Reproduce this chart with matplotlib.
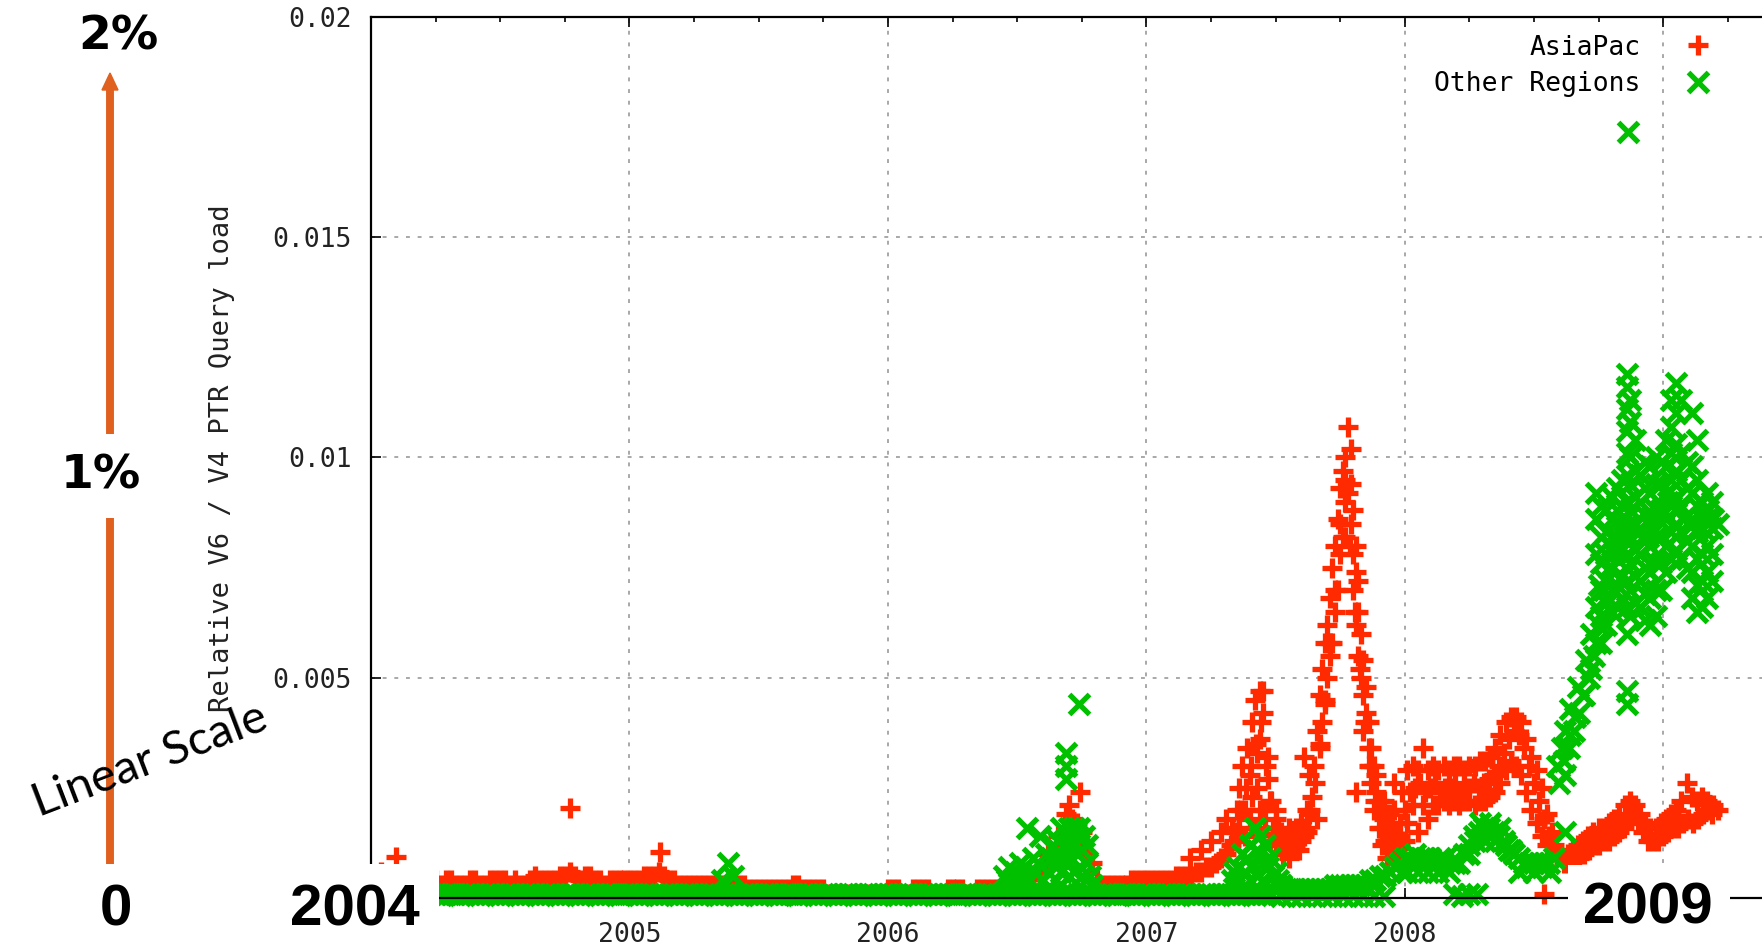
import numpy as np
import matplotlib
matplotlib.use("Agg")
import matplotlib.pyplot as plt
from matplotlib.patches import Rectangle, FancyArrow
from matplotlib.ticker import MultipleLocator

# weekly samples starting Jan 2004, one row per quarter
start_year = 2004.0
samples_per_year = 52

asiapac = [
    0.0003, 0.0004, 0.0006, 0.0004, 0.0003, 0.0003, 0.0003, 0.0004, 0.0003, 0.0003, 0.0003, 0.0003, 0.0003,
    0.0004, 0.0003, 0.0004, 0.0004, 0.0003, 0.0003, 0.0003, 0.0004, 0.0004, 0.0003, 0.0003, 0.0004, 0.0004,
    0.0004, 0.0004, 0.0003, 0.0004, 0.0003, 0.0003, 0.0004, 0.0005, 0.0004, 0.0004, 0.0004, 0.0004, 0.0005,
    0.0005, 0.0006, 0.0005, 0.0004, 0.0005, 0.0005, 0.0004, 0.0004, 0.0003, 0.0004, 0.0004, 0.0004, 0.0004,
    0.0004, 0.0004, 0.0004, 0.0005, 0.0005, 0.0005, 0.0006, 0.0005, 0.0004, 0.0004, 0.0003, 0.0003, 0.0003,
    0.0003, 0.0003, 0.0003, 0.0003, 0.0003, 0.0003, 0.0003, 0.0003, 0.0003, 0.0003, 0.0003, 0.0002, 0.0002,
    0.0002, 0.0002, 0.0002, 0.0002, 0.0002, 0.0002, 0.0002, 0.0003, 0.0003, 0.0002, 0.0002, 0.0002, 0.0002,
    0.0002, 0.0001, 0.0001, 0.0001, 0.0001, 0.0001, 0.0001, 0.0001, 0.0001, 0.0001, 0.0001, 0.0001, 0.0001,
    0.0002, 0.0002, 0.0002, 0.0001, 0.0001, 0.0002, 0.0002, 0.0002, 0.0002, 0.0001, 0.0001, 0.0001, 0.0002,
    0.0002, 0.0002, 0.0002, 0.0001, 0.0001, 0.0002, 0.0002, 0.0002, 0.0002, 0.0002, 0.0002, 0.0003, 0.0004,
    0.0005, 0.0006, 0.0005, 0.0005, 0.0006, 0.0007, 0.0008, 0.0009, 0.0010, 0.0012, 0.0015, 0.0018, 0.0017,
    0.0015, 0.0010, 0.0008, 0.0004, 0.0003, 0.0003, 0.0003, 0.0003, 0.0003, 0.0003, 0.0004, 0.0004, 0.0004,
    0.0004, 0.0004, 0.0004, 0.0004, 0.0004, 0.0004, 0.0005, 0.0005, 0.0005, 0.0005, 0.0006, 0.0006, 0.0007,
    0.0007, 0.0008, 0.0009, 0.0010, 0.0012, 0.0015, 0.0020, 0.0025, 0.0030, 0.0035, 0.0040, 0.0030, 0.0022,
    0.0018, 0.0014, 0.0012, 0.0011, 0.0012, 0.0014, 0.0016, 0.0020, 0.0026, 0.0035, 0.0045, 0.0058, 0.0070,
    0.0085, 0.0095, 0.0080, 0.0065, 0.0052, 0.0040, 0.0030, 0.0022, 0.0016, 0.0013, 0.0012, 0.0011, 0.0014,
    0.0020, 0.0024, 0.0025, 0.0026, 0.0024, 0.0025, 0.0026, 0.0024, 0.0025, 0.0025, 0.0026, 0.0024, 0.0025,
    0.0025, 0.0026, 0.0025, 0.0026, 0.0027, 0.0028, 0.0030, 0.0033, 0.0036, 0.0038, 0.0037, 0.0034, 0.0030,
    0.0026, 0.0022, 0.0018, 0.0014, 0.0012, 0.0010, 0.0008, 0.0008, 0.0009, 0.0009, 0.0010, 0.0011, 0.0012,
    0.0012, 0.0013, 0.0013, 0.0014, 0.0015, 0.0016, 0.0018, 0.0019, 0.0017, 0.0015, 0.0013, 0.0013, 0.0013,
    0.0014, 0.0015, 0.0016, 0.0016, 0.0017, 0.0018, 0.0017, 0.0018, 0.0019, 0.0020, 0.0021, 0.0020,
]

other = [
    0.0001, 0.00008, 0.00006, 0.00008, 0.0001, 0.00008, 0.00006, 0.00008, 0.0001, 0.00008, 0.00006, 0.00008, 0.0001,
    0.00008, 0.00006, 0.00008, 0.0001, 0.00008, 0.00006, 0.00008, 0.0001, 0.00008, 0.00006, 0.00008, 0.0001, 0.00008,
    0.00006, 0.00008, 0.0001, 0.00008, 0.00006, 0.00008, 0.0001, 0.00008, 0.00006, 0.00008, 0.0001, 0.00008, 0.00006,
    0.00008, 0.0001, 0.00008, 0.00006, 0.00008, 0.0001, 0.00008, 0.00006, 0.00008, 0.0001, 0.00008, 0.00006, 0.00008,
    0.0001, 0.00008, 0.00006, 0.00008, 0.0001, 0.00008, 0.00006, 0.00008, 0.0001, 0.00008, 0.00006, 0.00008, 0.0001,
    0.00008, 0.00006, 0.00008, 0.0001, 0.00008, 0.00006, 0.00008, 0.0001, 0.00008, 0.00006, 0.00008, 0.0001, 0.00008,
    0.00006, 0.00008, 0.0001, 0.00008, 0.00006, 0.00008, 0.0001, 0.00008, 0.00006, 0.00008, 0.0001, 0.00008, 0.00006,
    0.00008, 0.0001, 0.00008, 0.00006, 0.00008, 0.0001, 0.00008, 0.00006, 0.00008, 0.0001, 0.00008, 0.00006, 0.00008,
    0.0001, 0.00008, 0.00006, 0.00008, 0.0001, 0.00008, 0.00006, 0.00008, 0.0001, 0.00008, 0.00006, 0.00008, 0.0001,
    0.00008, 0.00006, 0.00008, 0.0001, 0.00008, 0.00006, 0.00008, 0.0001, 0.00008, 0.00006, 0.00008, 0.0001, 0.00008,
    0.00006, 0.00008, 0.0001, 0.00008, 0.00006, 0.00008, 0.0001, 0.00008, 0.00006, 0.00008, 0.0001, 0.00008, 0.00006,
    0.00008, 0.0001, 0.00008, 0.00006, 0.00008, 0.0001, 0.00008, 0.00006, 0.00008, 0.0001, 0.00008, 0.00006, 0.00008,
    0.0001, 0.00008, 0.00006, 0.00008, 0.0001, 0.00008, 0.00006, 0.00008, 0.0001, 0.00008, 0.00006, 0.00008, 0.0001,
    0.00008, 0.00006, 0.00008, 0.0001, 0.00008, 0.00006, 0.00008, 0.0001, 0.00008, 0.00006, 0.00008, 0.0001, 0.00008,
    0.0003, 0.0003, 0.0002, 0.0002, 0.0002, 0.0002, 0.0002, 0.0002, 0.0002, 0.0002, 0.0002, 0.0002, 0.0003,
    0.0003, 0.0003, 0.0003, 0.0003, 0.0003, 0.0003, 0.0004, 0.0004, 0.0005, 0.0005, 0.0006, 0.0007, 0.0008,
    0.0009, 0.0009, 0.0010, 0.0009, 0.0009, 0.0009, 0.0008, 0.0009, 0.0009, 0.0008, 0.0008, 0.0008, 0.0010,
    0.0012, 0.0014, 0.0015, 0.0016, 0.0016, 0.0015, 0.0014, 0.0013, 0.0011, 0.0010, 0.0009, 0.0008, 0.0008,
    0.0008, 0.0008, 0.0008, 0.0008, 0.0009, 0.0026, 0.0031, 0.0034, 0.0038, 0.0042, 0.0046, 0.0050, 0.0055,
    0.0062, 0.0070, 0.0075, 0.0078, 0.0080, 0.0082, 0.0085, 0.0085, 0.0083, 0.0082, 0.0082, 0.0084, 0.0086,
    0.0088, 0.0090, 0.0090, 0.0088, 0.0086, 0.0085, 0.0085, 0.0084, 0.0086, 0.0088, 0.0086, 0.0085,
]

# scattered readings around the weekly trace (date, value)
asiapac_extra = [
    (2004.096, 0.00094), (2004.771, 0.00204), (2005.119, 0.00104),
    (2006.62, 0.0010), (2006.66, 0.0014), (2006.69, 0.0019), (2006.70, 0.0021),
    (2006.744, 0.0024), (2006.72, 0.0012), (2006.76, 0.0010),
    (2007.17, 0.0009), (2007.21, 0.0011), (2007.25, 0.0013), (2007.29, 0.0015),
    (2007.31, 0.0018),
    (2007.33, 0.0016), (2007.34, 0.0013), (2007.35, 0.0020), (2007.36, 0.0025),
    (2007.36, 0.0016), (2007.37, 0.0030), (2007.38, 0.0020), (2007.38, 0.0014),
    (2007.39, 0.0034), (2007.40, 0.0028), (2007.40, 0.0018), (2007.41, 0.0040),
    (2007.41, 0.0023), (2007.42, 0.0045), (2007.42, 0.0016), (2007.43, 0.0025),
    (2007.43, 0.0033), (2007.44, 0.0047), (2007.44, 0.0036), (2007.44, 0.0020),
    (2007.45, 0.0042), (2007.45, 0.0047), (2007.46, 0.0020), (2007.46, 0.0016),
    (2007.47, 0.0027), (2007.47, 0.0032), (2007.48, 0.0022), (2007.48, 0.0013),
    (2007.49, 0.0016), (2007.50, 0.0020), (2007.51, 0.0013), (2007.51, 0.0016),
    (2007.53, 0.0010), (2007.53, 0.0014),
    (2007.50, 0.0012), (2007.52, 0.0015), (2007.54, 0.0013), (2007.55, 0.0016),
    (2007.57, 0.0011), (2007.58, 0.0016), (2007.60, 0.0013), (2007.62, 0.0015),
    (2007.63, 0.0019),
    (2007.55, 0.0009), (2007.56, 0.0012), (2007.57, 0.0015), (2007.58, 0.0013),
    (2007.59, 0.0011), (2007.60, 0.0017), (2007.61, 0.0032), (2007.61, 0.0014),
    (2007.62, 0.0020), (2007.63, 0.0028), (2007.64, 0.0023), (2007.65, 0.0030),
    (2007.66, 0.0018),
    (2007.66, 0.0038), (2007.67, 0.0046), (2007.67, 0.0034), (2007.68, 0.0052),
    (2007.68, 0.0040), (2007.69, 0.0058), (2007.69, 0.0044), (2007.70, 0.0062),
    (2007.70, 0.0050), (2007.71, 0.0068), (2007.71, 0.0055), (2007.72, 0.0075),
    (2007.72, 0.0058), (2007.73, 0.0080), (2007.73, 0.0065), (2007.74, 0.0086),
    (2007.74, 0.0070), (2007.75, 0.0093), (2007.75, 0.0078), (2007.76, 0.0097),
    (2007.76, 0.0082), (2007.77, 0.0100), (2007.77, 0.0090), (2007.77, 0.0082),
    (2007.78, 0.0107), (2007.78, 0.0092), (2007.79, 0.0102), (2007.79, 0.0094),
    (2007.79, 0.0085), (2007.80, 0.0078), (2007.80, 0.0088), (2007.80, 0.0070),
    (2007.81, 0.0074), (2007.81, 0.0080), (2007.81, 0.0062), (2007.81, 0.0024),
    (2007.82, 0.0065), (2007.82, 0.0072), (2007.82, 0.0055), (2007.83, 0.0050),
    (2007.83, 0.0060), (2007.84, 0.0046), (2007.84, 0.0054), (2007.84, 0.0038),
    (2007.85, 0.0042), (2007.85, 0.0048), (2007.86, 0.0034), (2007.86, 0.0040),
    (2007.86, 0.0030), (2007.87, 0.0026), (2007.87, 0.0034), (2007.88, 0.0020),
    (2007.88, 0.0030), (2007.89, 0.0024), (2007.89, 0.0028), (2007.90, 0.0016),
    (2007.90, 0.0022), (2007.91, 0.0012), (2007.91, 0.0019), (2007.92, 0.0018),
    (2007.93, 0.0009), (2007.93, 0.0015), (2007.95, 0.0011), (2007.95, 0.0016),
    (2007.96, 0.0009), (2007.97, 0.0014), (2007.98, 0.0012),
    (2007.92, 0.0022), (2007.94, 0.0019), (2007.94, 0.0013), (2007.96, 0.0020),
    (2007.96, 0.0026), (2007.97, 0.0009), (2007.98, 0.0017), (2007.99, 0.0024),
    (2008.00, 0.0013),
    (2008.01, 0.0029), (2008.03, 0.0030), (2008.05, 0.0029), (2008.07, 0.0034),
    (2008.09, 0.0029), (2008.11, 0.0030), (2008.13, 0.0029), (2008.15, 0.0030),
    (2008.17, 0.0029), (2008.19, 0.0030), (2008.21, 0.0030), (2008.23, 0.0029),
    (2008.25, 0.0030), (2008.27, 0.0030), (2008.29, 0.0031), (2008.31, 0.0031),
    (2008.33, 0.0032), (2008.35, 0.0034), (2008.37, 0.0037), (2008.39, 0.0040),
    (2008.41, 0.0041), (2008.43, 0.0041), (2008.45, 0.0040), (2008.47, 0.0036),
    (2008.49, 0.0032), (2008.51, 0.0029), (2008.53, 0.0025),
    (2008.01, 0.0017), (2008.03, 0.0021), (2008.05, 0.0015), (2008.07, 0.0021),
    (2008.09, 0.0018), (2008.11, 0.0021), (2008.13, 0.0021), (2008.15, 0.0022),
    (2008.17, 0.0021), (2008.19, 0.0022), (2008.21, 0.0021), (2008.23, 0.0022),
    (2008.25, 0.0022), (2008.27, 0.0021), (2008.29, 0.0022), (2008.31, 0.0022),
    (2008.33, 0.0023), (2008.35, 0.0024), (2008.37, 0.0026), (2008.39, 0.0029),
    (2008.41, 0.0031), (2008.43, 0.0030), (2008.45, 0.0028), (2008.47, 0.0024),
    (2008.49, 0.0020), (2008.51, 0.0017), (2008.53, 0.0014), (2008.55, 0.0012),
    (2008.57, 0.0015), (2008.54, 0.0001), (2008.55, 0.0019), (2008.58, 0.0011),
    (2008.63, 0.0010), (2008.65, 0.0011), (2008.67, 0.0012), (2008.69, 0.0013),
    (2008.71, 0.0014), (2008.73, 0.0015), (2008.75, 0.0016), (2008.77, 0.0016),
    (2008.79, 0.0017), (2008.81, 0.0018), (2008.83, 0.0019), (2008.85, 0.0021),
    (2008.87, 0.0022), (2008.89, 0.0021), (2008.91, 0.0019), (2008.93, 0.0017),
    (2008.95, 0.0016), (2008.97, 0.0016), (2008.99, 0.0017), (2009.01, 0.0018),
    (2009.03, 0.0019), (2009.05, 0.0020), (2009.07, 0.0022), (2009.09, 0.0026),
    (2009.11, 0.0023), (2009.13, 0.0022), (2009.15, 0.0023), (2009.17, 0.0022),
    (2009.19, 0.0019),
]

other_extra = [
    (2005.36, 0.0004), (2005.38, 0.0008), (2005.40, 0.0005),
    (2006.45, 0.0005), (2006.46, 0.0004), (2006.47, 0.0007), (2006.48, 0.0003),
    (2006.49, 0.0006), (2006.50, 0.0005), (2006.51, 0.0008), (2006.52, 0.0004),
    (2006.53, 0.0007), (2006.54, 0.0016), (2006.55, 0.0004), (2006.56, 0.0009),
    (2006.57, 0.0006), (2006.58, 0.0008), (2006.59, 0.0014), (2006.60, 0.0004),
    (2006.61, 0.0010), (2006.62, 0.0006), (2006.63, 0.0009), (2006.64, 0.0012),
    (2006.65, 0.0004), (2006.65, 0.0007), (2006.66, 0.0009), (2006.66, 0.0013),
    (2006.67, 0.0016), (2006.67, 0.0006), (2006.68, 0.0012), (2006.68, 0.0009),
    (2006.69, 0.0033), (2006.69, 0.0030), (2006.69, 0.0027), (2006.70, 0.0016),
    (2006.70, 0.0005), (2006.70, 0.0012), (2006.71, 0.0013), (2006.71, 0.0009),
    (2006.72, 0.0016), (2006.72, 0.0006), (2006.73, 0.0010), (2006.73, 0.0014),
    (2006.74, 0.0044), (2006.74, 0.0016), (2006.75, 0.0005), (2006.75, 0.0011),
    (2006.76, 0.0014), (2006.77, 0.0008), (2006.77, 0.0012), (2006.78, 0.0005),
    (2006.79, 0.0003),
    (2007.33, 0.0004), (2007.34, 0.0006), (2007.35, 0.0007), (2007.36, 0.0004),
    (2007.37, 0.0010), (2007.38, 0.0006), (2007.39, 0.0009), (2007.40, 0.0012),
    (2007.40, 0.0004), (2007.41, 0.0007), (2007.42, 0.0016), (2007.43, 0.0011),
    (2007.43, 0.0005), (2007.44, 0.0014), (2007.44, 0.0010), (2007.45, 0.0008),
    (2007.45, 0.0004), (2007.46, 0.0012), (2007.47, 0.0007), (2007.48, 0.0009),
    (2007.49, 0.0005), (2007.50, 0.0006), (2007.51, 0.0004), (2007.52, 0.0003),
    (2007.52, 0.00005), (2007.56, 0.00005), (2007.60, 0.00005), (2007.64, 0.00005),
    (2007.68, 0.00005), (2007.72, 0.00005), (2007.76, 0.00005), (2007.80, 0.00005),
    (2007.84, 0.00005), (2007.88, 0.00005), (2007.92, 0.00005),
    (2008.19, 0.0001), (2008.22, 0.00005), (2008.25, 0.0001), (2008.28, 0.0001),
    (2007.99, 0.0006), (2008.01, 0.0006), (2008.03, 0.0007), (2008.05, 0.0006),
    (2008.07, 0.0007), (2008.09, 0.0006), (2008.11, 0.0007), (2008.13, 0.0006),
    (2008.15, 0.0007), (2008.17, 0.0006),
    (2008.25, 0.0010), (2008.27, 0.0013), (2008.29, 0.0017), (2008.31, 0.0013),
    (2008.33, 0.0017), (2008.35, 0.0013), (2008.37, 0.0016), (2008.39, 0.0012),
    (2008.41, 0.0011),
    (2008.44, 0.0006), (2008.47, 0.0007), (2008.50, 0.0006), (2008.53, 0.0007),
    (2008.56, 0.0006),
    (2008.62, 0.0028), (2008.62, 0.0015),
    (2008.59, 0.0030), (2008.61, 0.0034), (2008.62, 0.0038), (2008.64, 0.0037),
    (2008.64, 0.0043), (2008.66, 0.0041), (2008.67, 0.0048), (2008.69, 0.0046),
    (2008.70, 0.0054), (2008.72, 0.0052), (2008.72, 0.0060), (2008.74, 0.0058),
    (2008.74, 0.0066), (2008.75, 0.0071),
    (2008.74, 0.0078), (2008.74, 0.0086), (2008.74, 0.0092),
    (2008.76, 0.0058), (2008.76, 0.0064), (2008.76, 0.0070), (2008.76, 0.0076),
    (2008.76, 0.0082), (2008.76, 0.0089),
    (2008.78, 0.0062), (2008.78, 0.0067), (2008.78, 0.0072), (2008.78, 0.0078),
    (2008.78, 0.0083), (2008.78, 0.0088),
    (2008.80, 0.0065), (2008.80, 0.0070), (2008.80, 0.0075), (2008.80, 0.0080),
    (2008.80, 0.0086), (2008.80, 0.0091),
    (2008.82, 0.0066), (2008.82, 0.0071), (2008.82, 0.0077), (2008.82, 0.0082),
    (2008.82, 0.0088), (2008.82, 0.0093),
    (2008.84, 0.0068), (2008.84, 0.0073), (2008.84, 0.0079), (2008.84, 0.0084),
    (2008.84, 0.0089), (2008.84, 0.0095),
    (2008.86, 0.0044), (2008.86, 0.0047), (2008.86, 0.0060), (2008.86, 0.0066),
    (2008.86, 0.0072), (2008.86, 0.0078), (2008.86, 0.0084), (2008.86, 0.0090),
    (2008.86, 0.0096), (2008.86, 0.0101), (2008.86, 0.0106), (2008.86, 0.0111),
    (2008.86, 0.0116), (2008.86, 0.0119), (2008.865, 0.0174),
    (2008.87, 0.0064), (2008.87, 0.0070), (2008.87, 0.0076), (2008.87, 0.0082),
    (2008.87, 0.0088), (2008.87, 0.0094), (2008.87, 0.0100), (2008.87, 0.0108),
    (2008.87, 0.0113),
    (2008.89, 0.0067), (2008.89, 0.0073), (2008.89, 0.0079), (2008.89, 0.0085),
    (2008.89, 0.0091), (2008.89, 0.0097), (2008.89, 0.0104),
    (2008.91, 0.0066), (2008.91, 0.0072), (2008.91, 0.0078), (2008.91, 0.0084),
    (2008.91, 0.0090), (2008.91, 0.0096),
    (2008.93, 0.0063), (2008.93, 0.0069), (2008.93, 0.0075), (2008.93, 0.0081),
    (2008.93, 0.0087), (2008.93, 0.0093), (2008.93, 0.0099),
    (2008.95, 0.0062), (2008.95, 0.0068), (2008.95, 0.0074), (2008.95, 0.0080),
    (2008.95, 0.0086), (2008.95, 0.0092), (2008.95, 0.0098),
    (2008.97, 0.0064), (2008.97, 0.0070), (2008.97, 0.0076), (2008.97, 0.0082),
    (2008.97, 0.0088), (2008.97, 0.0094), (2008.97, 0.0100),
    (2008.99, 0.0070), (2008.99, 0.0076), (2008.99, 0.0082), (2008.99, 0.0088),
    (2008.99, 0.0094), (2008.99, 0.0099),
    (2009.01, 0.0074), (2009.01, 0.0080), (2009.01, 0.0086), (2009.01, 0.0092),
    (2009.01, 0.0098), (2009.01, 0.0104),
    (2009.03, 0.0077), (2009.03, 0.0083), (2009.03, 0.0089), (2009.03, 0.0095),
    (2009.03, 0.0101), (2009.03, 0.0107), (2009.03, 0.0113),
    (2009.05, 0.0079), (2009.05, 0.0085), (2009.05, 0.0091), (2009.05, 0.0097),
    (2009.05, 0.0103), (2009.05, 0.0110), (2009.05, 0.0117),
    (2009.07, 0.0077), (2009.07, 0.0083), (2009.07, 0.0089), (2009.07, 0.0095),
    (2009.07, 0.0101), (2009.07, 0.0113),
    (2009.09, 0.0075), (2009.09, 0.0081), (2009.09, 0.0087), (2009.09, 0.0093),
    (2009.09, 0.0099),
    (2009.11, 0.0068), (2009.11, 0.0074), (2009.11, 0.0080), (2009.11, 0.0086),
    (2009.11, 0.0092), (2009.11, 0.0098), (2009.11, 0.0110),
    (2009.13, 0.0065), (2009.13, 0.0071), (2009.13, 0.0077), (2009.13, 0.0083),
    (2009.13, 0.0089), (2009.13, 0.0095), (2009.13, 0.0104),
    (2009.15, 0.0066), (2009.15, 0.0072), (2009.15, 0.0078), (2009.15, 0.0084),
    (2009.15, 0.0090),
    (2009.17, 0.0068), (2009.17, 0.0074), (2009.17, 0.0080), (2009.17, 0.0086),
    (2009.17, 0.0092),
    (2009.19, 0.0072), (2009.19, 0.0078), (2009.19, 0.0084), (2009.19, 0.0090),
]

x_ticks = [2005, 2006, 2007, 2008, 2009]
x_tick_labels = ["2005", "2006", "2007", "2008", ""]
y_ticks = [0, 0.005, 0.01, 0.015, 0.02]
y_tick_labels = ["", "0.005", "0.01", "0.015", "0.02"]

red = "#ff2a00"
green = "#00c000"
mono = "DejaVu Sans Mono"

W, H = 1762, 952
fig = plt.figure(figsize=(W / 100, H / 100), dpi=100)
ax = fig.add_axes([371 / W, 54 / H, 1421.5 / W, 881 / H])

t = start_year + np.arange(len(asiapac)) / samples_per_year
t2 = start_year + np.arange(len(other)) / samples_per_year
ra = np.array(asiapac_extra)
oa = np.array(other_extra)

pstyle = dict(ls="none", ms=15, mew=3.8, clip_on=False)
l1, = ax.plot(t, asiapac, marker="+", color=red, zorder=2, label="AsiaPac", **pstyle)
ax.plot(ra[:, 0], ra[:, 1], marker="+", color=red, zorder=2, **pstyle)
l2, = ax.plot(t2, other, marker="x", color=green, zorder=3, label="Other Regions", **pstyle)
ax.plot(oa[:, 0], oa[:, 1], marker="x", color=green, zorder=3, **pstyle)

ax.set_xlim(2004, 2009.5)
ax.set_ylim(0, 0.02)
ax.set_xticks(x_ticks)
ax.set_xticklabels(x_tick_labels, fontfamily=mono, fontsize=19)
ax.set_yticks(y_ticks)
ax.set_yticklabels(y_tick_labels, fontfamily=mono, fontsize=19)
ax.xaxis.set_minor_locator(MultipleLocator(0.25))
ax.tick_params(which="major", direction="in", length=7, width=1.2,
               top=True, right=True, colors="black")
ax.tick_params(axis="x", which="major", pad=17, labelcolor="#222222")
ax.tick_params(axis="y", which="major", pad=14, labelcolor="#222222")
ax.tick_params(axis="x", which="minor", direction="in", length=3.5, width=1.2,
               top=True, bottom=False)
ax.grid(True, which="major", color="#a8a8a8", linestyle=(0, (2, 4)), linewidth=1.4)
ax.set_axisbelow(True)
for s in ax.spines.values():
    s.set_linewidth(1.6)
    s.set_zorder(5)

fig.text(222 / W, 1 - 458 / H, "Relative V6 / V4 PTR Query load", rotation=90,
         ha="center", va="center", fontsize=19.5, fontfamily=mono, color="#222222")

ax.legend(handles=[l1, l2], loc="upper right", bbox_to_anchor=(1722 / W, 1 - 24 / H),
          bbox_transform=fig.transFigure, frameon=False, markerfirst=False,
          prop={"family": mono, "size": 19}, handlelength=1.0, handletextpad=1.7,
          labelspacing=0.4, borderaxespad=0, numpoints=1)

# annotations laid over the chart
fig.add_artist(FancyArrow(110 / 100, (H - 880) / 100, 0, (880 - 73) / 100,
                          width=0.065, head_width=0.16, head_length=0.17,
                          length_includes_head=True, color="#e0601f",
                          transform=fig.dpi_scale_trans, zorder=6))
fig.text(118 / W, 1 - 37 / H, "2%", ha="center", va="center", fontsize=34,
         fontweight="bold", fontfamily="DejaVu Sans", zorder=8)
fig.text(101 / W, 1 - 476 / H, "1%", ha="center", va="center", fontsize=34,
         fontweight="bold", fontfamily="DejaVu Sans", zorder=8,
         bbox=dict(facecolor="white", edgecolor="none", pad=14))
fig.text(150 / W, 1 - 760 / H, "Linear Scale", rotation=21, ha="center", va="center",
         fontsize=34, fontfamily="Lato", color="black", zorder=8)

fig.add_artist(Rectangle((0, 0), 439 / W, (H - 864) / H, transform=fig.transFigure,
                         facecolor="white", edgecolor="none", zorder=9))
fig.add_artist(Rectangle((1568 / W, 0), (1730 - 1568) / W, (H - 865) / H,
                         transform=fig.transFigure, facecolor="white",
                         edgecolor="none", zorder=9))
big = dict(ha="center", va="center", fontsize=42, fontweight="bold",
           fontfamily="Liberation Sans", zorder=10)
fig.text(116 / W, 1 - 910 / H, "0", **big)
fig.text(355 / W, 1 - 911 / H, "2004", **big)
fig.text(1648 / W, 1 - 908 / H, "2009", **big)

fig.savefig("out.png", dpi=100)
